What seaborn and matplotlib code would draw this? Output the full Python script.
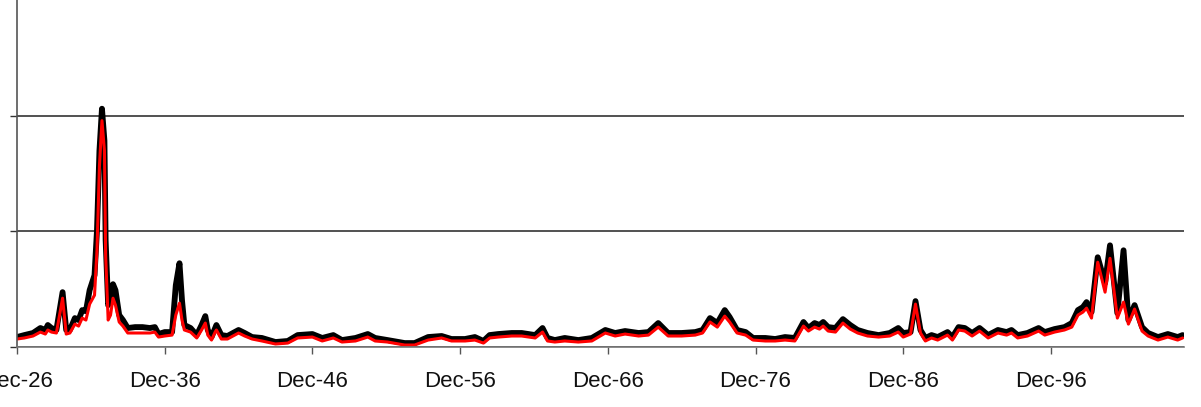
import matplotlib
matplotlib.use("Agg")
import matplotlib.pyplot as plt
import matplotlib.dates as mdates
import seaborn as sns
import pandas as pd
from datetime import datetime

months = [
    "1926-12", "1927-06", "1928-01", "1928-07", "1928-11", "1929-01", "1929-04", "1929-08",
    "1930-01", "1930-04", "1930-07", "1930-11", "1931-02", "1931-05", "1931-08", "1931-11",
    "1932-03", "1932-05", "1932-07", "1932-09", "1932-11", "1932-12", "1933-02", "1933-04",
    "1933-06", "1933-08", "1933-11", "1934-02", "1934-06", "1934-12", "1935-06", "1935-12",
    "1936-04", "1936-07", "1936-12", "1937-06", "1937-09", "1937-12", "1938-02", "1938-04",
    "1938-09", "1939-02", "1939-06", "1939-09", "1939-11", "1940-02", "1940-05", "1940-06",
    "1940-10", "1941-03", "1941-12", "1942-05", "1942-11", "1943-07", "1944-06", "1945-04",
    "1945-12", "1946-12", "1947-08", "1948-05", "1948-12", "1949-11", "1950-09", "1951-03",
    "1952-01", "1953-03", "1953-11", "1954-10", "1955-09", "1956-05", "1957-04", "1957-12",
    "1958-07", "1958-12", "1959-07", "1960-06", "1961-02", "1962-01", "1962-07", "1962-11",
    "1963-05", "1964-01", "1964-12", "1965-11", "1966-10", "1967-06", "1968-02", "1969-01",
    "1969-09", "1970-05", "1971-01", "1971-12", "1972-11", "1973-05", "1973-11", "1974-05",
    "1974-11", "1975-03", "1975-09", "1976-04", "1976-10", "1977-08", "1978-04", "1978-12",
    "1979-08", "1980-03", "1980-07", "1980-12", "1981-04", "1981-07", "1981-11", "1982-05",
    "1982-11", "1983-05", "1983-11", "1984-07", "1985-04", "1986-01", "1986-08", "1986-12",
    "1987-06", "1987-10", "1988-02", "1988-06", "1988-11", "1989-04", "1989-12", "1990-04",
    "1990-09", "1991-02", "1991-08", "1992-02", "1992-09", "1993-05", "1993-12", "1994-04",
    "1994-09", "1995-05", "1996-02", "1996-07", "1997-03", "1997-11", "1998-05", "1998-10",
    "1999-02", "1999-05", "1999-09", "2000-02", "2000-08", "2000-12", "2001-06", "2001-11",
    "2002-03", "2002-08", "2003-02", "2003-07", "2004-03", "2004-11", "2005-07", "2005-11",
]

black_series = [
    0.86, 1.03, 1.21, 1.64, 1.47, 1.90, 1.64, 1.47,
    4.74, 1.47, 1.47, 2.50, 2.33, 3.19, 3.10, 4.91,
    6.21, 10.09, 16.98, 20.60, 17.84, 9.22, 3.62, 4.05,
    5.43, 4.91, 2.76, 2.33, 1.64, 1.72, 1.72, 1.64,
    1.72, 1.12, 1.29, 1.29, 5.34, 7.24, 4.05, 1.90,
    1.64, 1.03, 1.90, 2.67, 1.47, 0.86, 1.64, 1.90,
    1.03, 0.95, 1.47, 1.21, 0.86, 0.78, 0.43, 0.52,
    1.03, 1.12, 0.78, 1.03, 0.60, 0.78, 1.12, 0.78,
    0.60, 0.34, 0.34, 0.86, 0.95, 0.69, 0.69, 0.86,
    0.52, 1.03, 1.12, 1.21, 1.21, 1.03, 1.64, 0.78,
    0.60, 0.78, 0.60, 0.78, 1.47, 1.21, 1.38, 1.21,
    1.29, 2.07, 1.21, 1.21, 1.29, 1.47, 2.50, 2.07,
    3.19, 2.59, 1.47, 1.29, 0.78, 0.78, 0.69, 0.86,
    0.78, 2.16, 1.64, 2.07, 1.90, 2.16, 1.72, 1.64,
    2.41, 1.90, 1.47, 1.21, 1.03, 1.21, 1.64, 1.21,
    1.29, 3.97, 1.47, 0.78, 1.03, 0.86, 1.29, 0.86,
    1.72, 1.64, 1.21, 1.64, 1.03, 1.47, 1.29, 1.47,
    1.03, 1.21, 1.64, 1.29, 1.55, 1.72, 2.07, 3.19,
    3.45, 3.88, 3.02, 7.76, 5.52, 8.79, 2.93, 8.36,
    2.33, 3.62, 1.72, 1.21, 0.86, 1.12, 0.86, 1.03,
]

red_series = [
    0.69, 0.78, 0.95, 1.29, 1.12, 1.47, 1.29, 1.21,
    4.22, 1.12, 1.21, 1.98, 1.81, 2.50, 2.33, 3.71,
    4.48, 8.36, 15.69, 19.57, 16.98, 7.93, 2.33, 2.76,
    4.22, 3.62, 2.16, 1.81, 1.21, 1.21, 1.21, 1.21,
    1.29, 0.86, 0.95, 1.03, 2.76, 3.79, 2.33, 1.47,
    1.29, 0.78, 1.47, 2.07, 1.03, 0.60, 1.29, 1.47,
    0.69, 0.69, 1.21, 0.95, 0.69, 0.52, 0.26, 0.34,
    0.78, 0.86, 0.52, 0.78, 0.43, 0.52, 0.86, 0.52,
    0.43, 0.17, 0.17, 0.60, 0.78, 0.52, 0.52, 0.60,
    0.34, 0.78, 0.86, 0.95, 0.95, 0.78, 1.29, 0.52,
    0.43, 0.52, 0.43, 0.52, 1.21, 0.95, 1.12, 0.95,
    1.03, 1.72, 0.95, 0.95, 1.03, 1.21, 2.16, 1.72,
    2.67, 2.16, 1.21, 1.03, 0.60, 0.52, 0.52, 0.60,
    0.52, 1.81, 1.38, 1.72, 1.55, 1.81, 1.38, 1.29,
    2.07, 1.55, 1.21, 0.95, 0.86, 0.95, 1.29, 0.86,
    1.12, 3.71, 1.21, 0.52, 0.78, 0.60, 1.03, 0.60,
    1.47, 1.38, 0.95, 1.38, 0.78, 1.21, 1.03, 1.21,
    0.78, 0.95, 1.38, 1.03, 1.29, 1.47, 1.72, 2.76,
    3.02, 3.36, 2.50, 7.33, 4.74, 7.67, 2.50, 3.88,
    1.98, 3.28, 1.38, 0.95, 0.60, 0.86, 0.60, 0.78,
]

tick_years = [1926, 1936, 1946, 1956, 1966, 1976, 1986, 1996]
y_ticks = [0, 10, 20]

dates = pd.to_datetime(months, format="%Y-%m")
df_black = pd.DataFrame({"date": dates, "value": black_series})
df_red = pd.DataFrame({"date": dates, "value": red_series})

sns.set_style("white")
plt.rcParams["font.family"] = ["Liberation Sans", "DejaVu Sans"]

fig = plt.figure(figsize=(12.01, 4.07), dpi=100)
ax = fig.add_axes([17 / 1201, 60 / 407, (1184 - 17) / 1201, 347 / 407])

sns.lineplot(data=df_black, x="date", y="value", color="black", linewidth=4.2, ax=ax)
sns.lineplot(data=df_red, x="date", y="value", color="#ff0000", linewidth=2.2, ax=ax)

ax.set_xlim(datetime(1926, 12, 1), datetime(2005, 12, 5))
ax.set_ylim(0, 30)
ax.set_xticks([datetime(y, 12, 1) for y in tick_years])
ax.xaxis.set_major_formatter(mdates.DateFormatter("%b-%y"))
ax.set_yticks(y_ticks)
ax.set_yticklabels([])
ax.set_xlabel("")
ax.set_ylabel("")

ax.yaxis.grid(True, color="#333333", linewidth=1.2)
ax.xaxis.grid(False)
ax.set_axisbelow(True)

for s in ["top", "right"]:
    ax.spines[s].set_visible(False)
ax.spines["left"].set_color("#555555")
ax.spines["bottom"].set_color("#777777")
ax.spines["left"].set_linewidth(1.2)
ax.spines["bottom"].set_linewidth(1.2)

ax.tick_params(axis="x", direction="out", length=5, width=1.0, color="#555555",
               labelsize=16, pad=12, labelcolor="#111111", bottom=True)
ax.tick_params(axis="y", direction="out", length=5, width=1.0, color="#333333",
               left=True)

fig.savefig("out.png", dpi=100)
